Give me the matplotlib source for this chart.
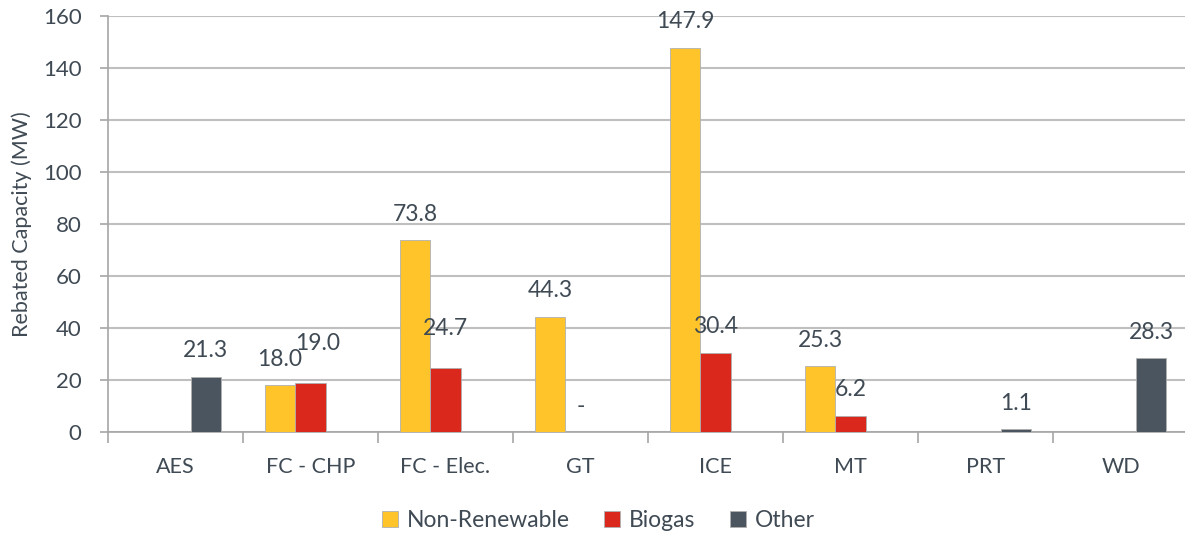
import numpy as np
import matplotlib
matplotlib.use("Agg")
import matplotlib.pyplot as plt

plt.rcParams['font.family'] = ['Lato', 'DejaVu Sans']

# DATA
categories = ["AES", "FC - CHP", "FC - Elec.", "GT", "ICE", "MT", "PRT", "WD"]
non_renewable = [0, 18.0, 73.8, 44.3, 147.9, 25.3, 0, 0]
biogas = [0, 19.0, 24.7, 0, 30.4, 6.2, 0, 0]
other = [21.3, 0, 0, 0, 0, 0, 1.1, 28.3]

# labels as shown on the chart (None = no label)
nr_labels = [None, "18.0", "73.8", "44.3", "147.9", "25.3", None, None]
bg_labels = [None, "19.0", "24.7", "-", "30.4", "6.2", None, None]
ot_labels = ["21.3", None, None, None, None, None, "1.1", "28.3"]

# STYLE
c_nr = "#FFC429"
c_bg = "#DA291C"
c_ot = "#4A555F"
txt = "#3F4A54"
grid = "#BFBFBF"

fig = plt.figure(figsize=(11.85, 5.38), dpi=100)
ax = fig.add_axes([0.0911, 0.197, 0.9115, 0.773])

x = np.arange(len(categories))
w = 0.225

series = [(non_renewable, nr_labels, c_nr, -w, "Non-Renewable"),
          (biogas, bg_labels, c_bg, 0, "Biogas"),
          (other, ot_labels, c_ot, w, "Other")]

for vals, labs, col, off, name in series:
    ax.bar(x + off, vals, width=w, color=col, edgecolor="#B0B0B0",
           linewidth=0.6, label=name, zorder=3)
    for i, (v, lab) in enumerate(zip(vals, labs)):
        if lab is None:
            continue
        dy = 26
        dx = 0
        # Excel pushed these labels up to dodge their neighbours
        if lab in ("19.0", "24.7"):
            dy = 39
        if lab == "19.0":
            dx = 7
        ax.annotate(lab, (x[i] + off, v), xytext=(dx, dy),
                    textcoords="offset pixels", ha="center", va="center",
                    fontsize=16.5, color=txt, zorder=4)

ax.set_xlim(-0.5, len(categories) - 0.5)
ax.set_ylim(0, 160)
ax.set_yticks(np.arange(0, 161, 20))
ax.yaxis.grid(True, color=grid, linewidth=1.5, zorder=0)
ax.set_axisbelow(True)

ax.set_xticks(x)
ax.set_xticklabels(categories)
ax.set_xticks(np.arange(-0.5, len(categories), 1), minor=True)
ax.tick_params(axis="x", which="major", length=0, pad=18, labelsize=15.5, labelcolor=txt)
ax.tick_params(axis="x", which="minor", length=8, width=1.2, color="#A6A6A6", direction="out")
ax.tick_params(axis="y", length=6, width=1.2, color="#A6A6A6", labelsize=16, labelcolor=txt, pad=13)

for s in ["top", "right"]:
    ax.spines[s].set_visible(False)
for s in ["left", "bottom"]:
    ax.spines[s].set_color("#A6A6A6")
    ax.spines[s].set_linewidth(1.2)

ax.set_ylabel("Rebated Capacity (MW)", fontsize=15.5, color=txt, labelpad=8)

fig.legend(loc="center", bbox_to_anchor=(0.505, 0.032), ncol=3, frameon=False,
           fontsize=16.5, handlelength=0.7, handleheight=0.7, handletextpad=0.4,
           columnspacing=1.5, labelcolor=txt)

fig.savefig("out.png", dpi=100)
